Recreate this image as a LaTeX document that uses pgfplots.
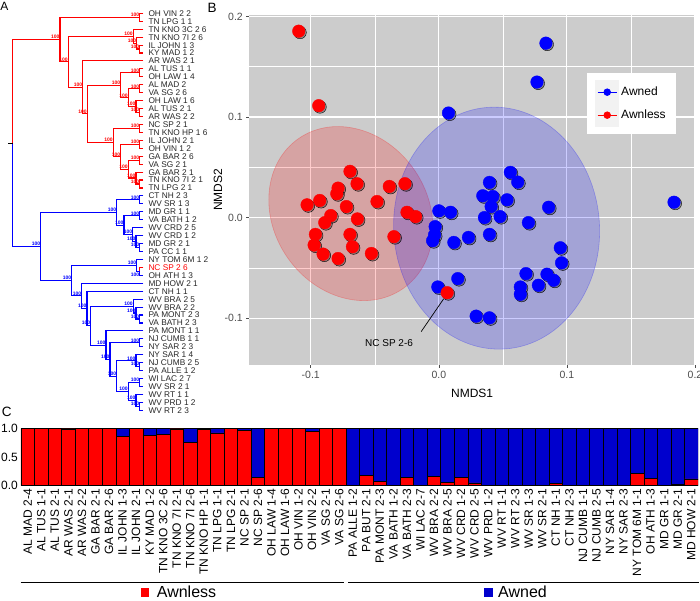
\documentclass[border=0pt]{standalone}
\usepackage{pgfplots}
\pgfplotsset{compat=1.18}
\usepackage{pgfplotstable}
\usepackage{fontspec}
\setmainfont{Liberation Sans}
\definecolor{dred}{RGB}{255,0,0}
\definecolor{dblue}{RGB}{0,0,255}
\definecolor{barblue}{RGB}{0,0,205}
\definecolor{panelgray}{RGB}{204,204,204}
\definecolor{tickgray}{RGB}{77,77,77}
\newcommand{\fs}[1]{\fontsize{#1}{#1}\selectfont}
% elbow: color, X, Ynode, x1, y1, x2, y2
\newcommand{\el}[7]{%
  \addplot[#1, line width=1.1pt] coordinates {(#4,#5) (#2,#5) (#2,#7) (#6,#7)};
  \node[anchor=south east, inner sep=0.4pt, text=#1, font=\fs{5}\bfseries] at (axis cs:#2,#3) {100};
}
\newcommand{\lf}[2]{\node[anchor=base west, inner sep=0pt, font=\fs{8.3}, text=black!85] at (axis cs:148.3,{13.3+(#1-1)*7.94+2.95}) {#2};}

\pgfplotstableread{
x y
-0.1094 0.1854
-0.0938 0.1113
-0.0694 0.0460
-0.0639 0.0337
-0.0787 0.0293
-0.0797 0.0237
-0.0930 0.0170
-0.1029 0.0127
-0.0722 0.0110
-0.0844 0.0020
-0.0636 -0.0013
-0.0891 -0.0050
-0.0483 0.0160
-0.0387 0.0310
-0.0265 0.0337
-0.0249 0.0053
-0.0182 0.0010
-0.0964 -0.0167
-0.0694 -0.0167
-0.0351 -0.0190
-0.0974 -0.0273
-0.0675 -0.0290
-0.0904 -0.0363
-0.0787 -0.0407
-0.0527 -0.0357
0.0065 -0.0747
}\redpts
\pgfplotstableread{
x y
0.0836 0.1735
0.0766 0.1348
0.0075 0.1040
0.1836 0.0153
0.0558 0.0450
0.0616 0.0353
0.0395 0.0350
0.0343 0.0217
0.0421 0.0210
0.0532 0.0177
0.0408 0.0110
0.0857 0.0103
0.0356 0.0000
0.0478 0.0010
0.0699 -0.0050
0.0000 0.0067
0.0091 0.0053
-0.0029 -0.0090
-0.0034 -0.0173
-0.0049 -0.0230
0.0117 -0.0247
0.0231 -0.0197
0.0395 -0.0167
0.0948 -0.0300
0.0958 -0.0450
0.0680 -0.0557
0.0844 -0.0563
0.0896 -0.0623
0.0777 -0.0673
0.0636 -0.0690
0.0636 -0.0763
0.0148 -0.0607
-0.0008 -0.0690
0.0291 -0.0980
0.0395 -0.0997
}\bluepts
\pgfplotstableread{
i r b
0 1.00 0.00
1 1.00 0.00
2 1.00 0.00
3 0.99 0.01
4 1.00 0.00
5 1.00 0.00
6 1.00 0.00
7 0.855 0.145
8 1.00 0.00
9 0.88 0.12
10 0.90 0.10
11 0.99 0.01
12 0.75 0.25
13 0.98 0.02
14 0.92 0.08
15 1.00 0.00
16 0.97 0.03
17 0.15 0.85
18 1.00 0.00
19 1.00 0.00
20 1.00 0.00
21 0.95 0.05
22 1.00 0.00
23 1.00 0.00
24 0.00 1.00
25 0.186 0.814
26 0.07 0.93
27 0.01 0.99
28 0.145 0.855
29 0.00 1.00
30 0.163 0.837
31 0.064 0.936
32 0.14 0.86
33 0.05 0.95
34 0.00 1.00
35 0.00 1.00
36 0.00 1.00
37 0.005 0.995
38 0.00 1.00
39 0.035 0.965
40 0.00 1.00
41 0.00 1.00
42 0.00 1.00
43 0.00 1.00
44 0.00 1.00
45 0.21 0.79
46 0.134 0.866
47 0.00 1.00
48 0.017 0.983
49 0.12 0.88
}\bars

\begin{document}
\begin{tikzpicture}
\path[use as bounding box] (0,0) rectangle (700pt,601pt);

% ---------------- canvas axis: panel A dendrogram and labels
\begin{axis}[at={(0pt,0pt)}, anchor=south west, scale only axis, width=700pt, height=601pt,
  xmin=0, xmax=700, ymin=0, ymax=601, y dir=reverse, hide axis, clip=false]
% red clade
\el{dred}{139.7}{17.27}{143.3}{13.30}{143.3}{21.24}
\el{dred}{139.7}{49.03}{143.3}{45.06}{143.3}{53.00}
\el{dred}{136.7}{43.08}{143.3}{37.12}{139.7}{49.03}
\el{dred}{133.3}{36.13}{143.3}{29.18}{136.7}{43.08}
\el{dred}{139.7}{72.85}{143.3}{68.88}{143.3}{76.82}
\el{dred}{139.7}{88.73}{143.3}{84.76}{143.3}{92.70}
\el{dred}{139.7}{112.55}{143.3}{108.58}{143.3}{116.52}
\el{dred}{136}{106.6}{143.3}{100.64}{139.7}{112.55}
\el{dred}{128.3}{97.66}{139.7}{88.73}{136}{106.6}
\el{dred}{120.7}{85.26}{139.7}{72.85}{128.3}{97.66}
\el{dred}{139.7}{128.43}{143.3}{124.46}{143.3}{132.40}
\el{dred}{139.7}{144.31}{143.3}{140.34}{143.3}{148.28}
\el{dred}{139.7}{160.19}{143.3}{156.22}{143.3}{164.16}
\el{dred}{139.7}{184.01}{143.3}{180.04}{143.3}{187.98}
\el{dred}{136}{178.05}{143.3}{172.10}{139.7}{184.01}
\el{dred}{128.3}{169.12}{139.7}{160.19}{136}{178.05}
\el{dred}{120.7}{156.72}{139.7}{144.31}{128.3}{169.12}
\el{dred}{113.3}{142.57}{139.7}{128.43}{120.7}{156.72}
\el{dred}{87.3}{113.92}{120.7}{85.26}{113.3}{142.57}
\el{dred}{82.7}{87.43}{143.3}{60.94}{87.3}{113.92}
\el{dred}{68.3}{61.78}{133.3}{36.13}{82.7}{87.43}
\el{dred}{60}{39.53}{139.7}{17.27}{68.3}{61.78}
\addplot[dred, line width=1.1pt] coordinates {(60,39.53) (12.7,39.53) (12.7,143.06)};
\addplot[dblue, line width=1.1pt] coordinates {(12.7,143.06) (12.7,246.59) (40.7,246.59)};
\addplot[black, line width=1.1pt] coordinates {(8.3,143.06) (12.7,143.06)};
% blue clade
\el{dblue}{139.7}{199.89}{143.3}{195.92}{143.3}{203.86}
\el{dblue}{139.7}{215.77}{143.3}{211.80}{143.3}{219.74}
\el{dblue}{139.7}{247.53}{143.3}{243.56}{143.3}{251.50}
\el{dblue}{136}{241.58}{143.3}{235.62}{139.7}{247.53}
\el{dblue}{132.7}{234.63}{143.3}{227.68}{136}{241.58}
\el{dblue}{124}{225.2}{139.7}{215.77}{132.7}{234.63}
\el{dblue}{116.7}{212.55}{139.7}{199.89}{124}{225.2}
\addplot[dred, line width=1.1pt] coordinates {(143.3,267.38) (139.7,267.38) (139.7,271.35)};
\addplot[dblue, line width=1.1pt] coordinates {(139.7,271.35) (139.7,275.32) (143.3,275.32)};
\node[anchor=south east, inner sep=0.4pt, text=dblue, font=\fs{5}\bfseries] at (axis cs:139.7,277.5) {100};
\el{dblue}{136.7}{265.4}{143.3}{259.44}{139.7}{271.35}
\el{dblue}{139.7}{318.99}{143.3}{315.02}{143.3}{322.96}
\el{dblue}{136}{313.04}{143.3}{307.08}{139.7}{318.99}
\el{dblue}{133.3}{306.09}{143.3}{299.14}{136}{313.04}
\el{dblue}{139.7}{342.81}{143.3}{338.84}{143.3}{346.78}
\el{dblue}{139.7}{366.63}{143.3}{362.66}{143.3}{370.60}
\el{dblue}{136}{360.68}{143.3}{354.72}{139.7}{366.63}
\el{dblue}{139.7}{382.51}{143.3}{378.54}{143.3}{386.48}
\el{dblue}{139.7}{406.33}{143.3}{402.36}{143.3}{410.30}
\el{dblue}{136}{400.38}{143.3}{394.42}{139.7}{406.33}
\el{dblue}{128.3}{391.45}{139.7}{382.51}{136}{400.38}
\el{dblue}{116.7}{376.07}{136}{360.68}{128.3}{391.45}
\el{dblue}{110}{359.44}{139.7}{342.81}{116.7}{376.07}
\el{dblue}{106}{345.17}{143.3}{330.90}{110}{359.44}
\el{dblue}{90.7}{325.63}{133.3}{306.09}{106}{345.17}
\el{dblue}{87}{308.42}{143.3}{291.20}{90.7}{325.63}
\el{dblue}{81.7}{295.84}{143.3}{283.26}{87}{308.42}
\el{dblue}{71.7}{280.62}{136.7}{265.4}{81.7}{295.84}
\el{dblue}{40.7}{246.59}{116.7}{212.55}{71.7}{280.62}
% leaf labels
\lf{1}{OH VIN 2 2}
\lf{2}{TN LPG 1 1}
\lf{3}{TN KNO 3C 2 6}
\lf{4}{TN KNO 7I 2 6}
\lf{5}{IL JOHN 1 3}
\lf{6}{KY MAD 1 2}
\lf{7}{AR WAS 2 1}
\lf{8}{AL TUS 1 1}
\lf{9}{OH LAW 1 4}
\lf{10}{AL MAD 2}
\lf{11}{VA SG 2 6}
\lf{12}{OH LAW 1 6}
\lf{13}{AL TUS 2 1}
\lf{14}{AR WAS 2 2}
\lf{15}{NC SP 2 1}
\lf{16}{TN KNO HP 1 6}
\lf{17}{IL JOHN 2 1}
\lf{18}{OH VIN 1 2}
\lf{19}{GA BAR 2 6}
\lf{20}{VA SG 2 1}
\lf{21}{GA BAR 2 1}
\lf{22}{TN KNO 7I 2 1}
\lf{23}{TN LPG 2 1}
\lf{24}{CT NH 2 3}
\lf{25}{WV SR 1 3}
\lf{26}{MD GR 1 1}
\lf{27}{VA BATH 1 2}
\lf{28}{WV CRD 2 5}
\lf{29}{WV CRD 1 2}
\lf{30}{MD GR 2 1}
\lf{31}{PA CC 1 1}
\lf{32}{NY TOM 6M 1 2}
\node[anchor=base west, inner sep=0pt, font=\fs{8.3}, text=dred] at (axis cs:148.3,{13.3+32*7.94+2.95}) {NC SP 2 6};
\lf{34}{OH ATH 1 3}
\lf{35}{MD HOW 2 1}
\lf{36}{CT NH 1 1}
\lf{37}{WV BRA 2 5}
\lf{38}{WV BRA 2 2}
\lf{39}{PA MONT 2 3}
\lf{40}{VA BATH 2 3}
\lf{41}{PA MONT 1 1}
\lf{42}{NJ CUMB 1 1}
\lf{43}{NY SAR 2 3}
\lf{44}{NY SAR 1 4}
\lf{45}{NJ CUMB 2 5}
\lf{46}{PA ALLE 1 2}
\lf{47}{WI LAC 2 7}
\lf{48}{WV SR 2 1}
\lf{49}{WV RT 1 1}
\lf{50}{WV PRD 1 2}
\lf{51}{WV RT 2 3}
% panel letters
\node[anchor=base west, inner sep=0pt, font=\fs{12}] at (axis cs:0.3,10.7) {A};
\node[anchor=base west, inner sep=0pt, font=\fs{13.5}] at (axis cs:207.3,12.7) {B};
\node[anchor=base west, inner sep=0pt, font=\fs{13.5}] at (axis cs:1.7,416.7) {C};
% group underlines of panel C
\draw[black, line width=0.9pt] (axis cs:20.7,582) -- (axis cs:344,582);
\draw[black, line width=0.9pt] (axis cs:348,582) -- (axis cs:699,582);
\end{axis}

% ---------------- panel B: NMDS
\begin{axis}[at={(249.3pt,236pt)}, anchor=south west, scale only axis,
  width=445.7pt, height=350pt,
  xmin=-0.148, xmax=0.2, ymin=-0.1466, ymax=0.2015,
  axis background/.style={fill=panelgray},
  axis line style={draw=none},
  xtick={-0.1,0,0.1,0.2}, xticklabels={-0.1,0.0,0.1,0.2},
  ytick={-0.1,0,0.1,0.2}, yticklabels={-0.1,0.0,0.1,0.2},
  minor xtick={-0.05,0.05,0.15}, minor ytick={-0.05,0.05,0.15},
  grid=both, major grid style={white, line width=1.1pt}, minor grid style={white, line width=0.6pt},
  tick pos=left, tick align=outside, major tick length=3pt, minor tick length=0pt,
  tick style={tickgray, line width=0.6pt},
  ticklabel style={font=\fs{10.5}, text=tickgray},
  xlabel={NMDS1}, ylabel={NMDS2},
  xlabel style={font=\fs{12}, at={(axis description cs:0.5,-0.08)}, anchor=center},
  ylabel style={font=\fs{12}, at={(axis description cs:-0.0702,0.5)}, anchor=center, rotate=0},
  legend image code/.code={%
    \fill[black!5] (-2pt,-11.5pt) rectangle (21pt,11.5pt);
    \draw[mark repeat=2,mark phase=2,#1] plot coordinates {(0pt,0pt) (9.5pt,0pt) (19pt,0pt)};},
  legend style={at={(0.7577,0.8343)}, anchor=north west, draw=none, fill=white,
    font=\fs{12}, inner xsep=8pt, inner ysep=7pt, row sep=-1pt},
  legend cell align=left,
]
\addlegendimage{dblue, line width=1pt, mark=*, mark size=3.2pt, mark options={fill=dblue, draw=dblue}}
\addlegendentry{Awned}
\addlegendimage{dred, line width=1pt, mark=*, mark size=3.2pt, mark options={fill=dred, draw=dred}}
\addlegendentry{Awnless}
\addplot[only marks, mark=*, mark size=6.3pt, mark options={draw=none, fill=black, fill opacity=0.3}, xshift=1.3pt, yshift=-1.3pt, forget plot] table {\bluepts};
\addplot[only marks, mark=*, mark size=6.3pt, mark options={draw=none, fill=black, fill opacity=0.3}, xshift=1.3pt, yshift=-1.3pt, forget plot] table {\redpts};
\addplot[only marks, mark=*, mark size=6.3pt, mark options={draw=dblue, fill=dblue}, forget plot] table {\bluepts};
\addplot[only marks, mark=*, mark size=6.3pt, mark options={draw=dred, fill=dred}, forget plot] table {\redpts};
\fill[dred, fill opacity=0.2, draw=dred, draw opacity=0.25, line width=0.6pt] (axis cs:-0.06875,0.004) ellipse [x radius=91.4pt, y radius=77.1pt, rotate=-55.3];
\fill[dblue, fill opacity=0.2, draw=dblue, draw opacity=0.25, line width=0.6pt] (axis cs:0.0451,-0.0105) ellipse [x radius=102.9pt, y radius=121.1pt, rotate=4.3];
\draw[black, line width=0.7pt] (axis cs:-0.0138,-0.1134) -- (axis cs:0.0037,-0.0809);
\node[font=\fs{10}] at (axis cs:-0.0389,-0.1247) {NC SP 2-6};
\end{axis}

% ---------------- panel C: stacked bars
\begin{axis}[at={(21pt,115.3pt)}, anchor=south west, scale only axis,
  width=677pt, height=57.4pt,
  ybar stacked, bar width=1, xmin=-0.5, xmax=49.5, ymin=0, ymax=1,
  axis line style={draw=none},
  xtick={0,...,49},
  xticklabels={AL MAD 2-4,AL TUS 1-1,AL TUS 2-1,AR WAS 2-1,AR WAS 2-2,GA BAR 2-1,GA BAR 2-6,IL JOHN 1-3,IL JOHN 2-1,KY MAD 1-2,TN KNO 3C 2-6,TN KNO 7I 2-1,TN KNO 7I 2-6,TN KNO HP 1-1,TN LPG 1-1,TN LPG 2-1,NC SP 2-1,NC SP 2-6,OH LAW 1-4,OH LAW 1-6,OH VIN 1-2,OH VIN 2-2,VA SG 2-1,VA SG 2-6,PA ALLE 1-2,PA BUT 2-1,PA MONT 2-3,VA BATH 1-2,VA BATH 2-3,WI LAC 2-7,WV BRA 2-2,WV BRA 2-5,WV CRD 1-2,WV CRD 2-5,WV PRD 1-2,WV RT 1-1,WV RT 2-3,WV SR 1-3,WV SR 2-1,CT NH 1-1,CT NH 2-3,NJ CUMB 1-1,NJ CUMB 2-5,NY SAR 1-4,NY SAR 2-3,NY TOM 6M 1-1,OH ATH 1-3,MD GR 1-1,MD GR 2-1,MD HOW 2-1},
  ytick={0,0.5,1}, yticklabels={0.0,0.5,1.0},
  major tick length=0pt,
  xticklabel style={rotate=90, anchor=east, font=\fs{12}, inner sep=3pt},
  yticklabel style={font=\fs{12}, inner sep=3pt},
  legend style={at={(0.1768,-1.855)}, anchor=west, draw=none, fill=none, legend columns=2,
    font=\fs{16}, inner sep=0pt, /tikz/every even column/.append style={column sep=266pt}},
]
\addplot[fill=dred, draw=black, line width=0.5pt, forget plot] table[x=i, y=r] {\bars};
\addplot[fill=barblue, draw=black, line width=0.5pt, forget plot] table[x=i, y=b] {\bars};
\addlegendimage{legend image code/.code={\fill[dred] (0pt,-3.8pt) rectangle (7.6pt,3.8pt);}}
\addlegendentry{\hspace{6pt}Awnless}
\addlegendimage{legend image code/.code={\fill[barblue] (0pt,-3.8pt) rectangle (7.6pt,3.8pt);}}
\addlegendentry{\hspace{4pt}Awned}
\end{axis}
\end{tikzpicture}
\end{document}
